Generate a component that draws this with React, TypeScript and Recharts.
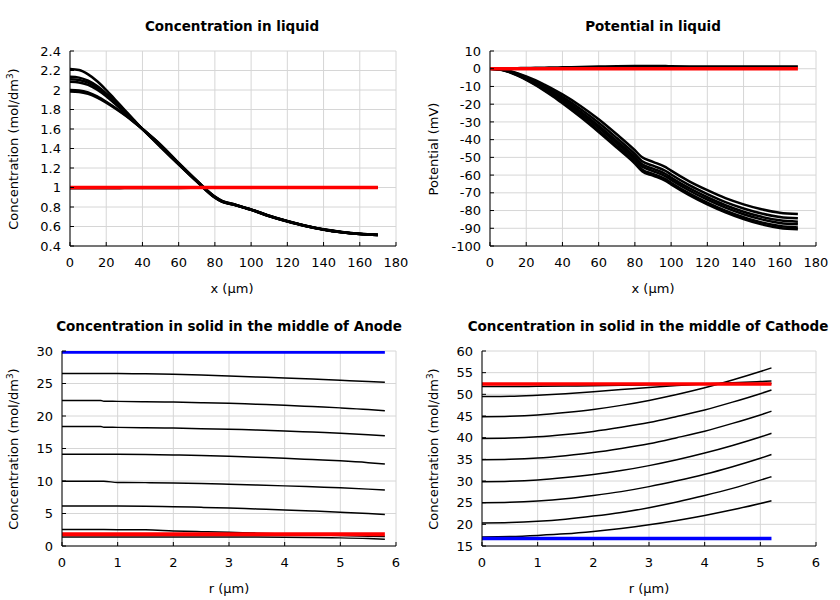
import React from 'react';
import { LineChart, Line, XAxis, YAxis, CartesianGrid } from 'recharts';

const FONT = "'DejaVu Sans', sans-serif";

// ---------- Panel 1: Concentration in liquid ----------
const liquidX = [0, 5, 10, 15, 20, 25, 30, 35, 40, 50, 60, 70, 80, 84, 90, 97, 100, 110, 120, 130, 140, 150, 160, 170];
const liquidC1 = [2.215, 2.205, 2.16, 2.09, 2.0, 1.9, 1.8, 1.7, 1.6, 1.415, 1.235, 1.06, 0.895, 0.852, 0.825, 0.787, 0.77, 0.705, 0.652, 0.605, 0.567, 0.54, 0.522, 0.512];
const liquidC2 = [2.135, 2.127, 2.095, 2.04, 1.965, 1.88, 1.787, 1.692, 1.6, 1.42, 1.24, 1.063, 0.898, 0.854, 0.826, 0.788, 0.771, 0.706, 0.653, 0.606, 0.568, 0.541, 0.523, 0.513];
const liquidC3 = [2.11, 2.103, 2.075, 2.022, 1.952, 1.868, 1.778, 1.688, 1.6, 1.425, 1.243, 1.065, 0.9, 0.856, 0.827, 0.789, 0.772, 0.707, 0.653, 0.606, 0.568, 0.541, 0.523, 0.513];
const liquidC4 = [2.085, 2.078, 2.052, 2.002, 1.935, 1.855, 1.77, 1.684, 1.6, 1.43, 1.245, 1.066, 0.901, 0.857, 0.828, 0.789, 0.773, 0.708, 0.654, 0.607, 0.569, 0.542, 0.524, 0.514];
const liquidC5 = [2.0, 1.995, 1.975, 1.935, 1.88, 1.818, 1.75, 1.677, 1.6, 1.438, 1.25, 1.07, 0.905, 0.86, 0.83, 0.79, 0.775, 0.71, 0.655, 0.608, 0.57, 0.543, 0.525, 0.515];
const liquidC6 = [1.985, 1.98, 1.96, 1.922, 1.87, 1.81, 1.745, 1.675, 1.6, 1.44, 1.252, 1.072, 0.907, 0.862, 0.831, 0.791, 0.776, 0.711, 0.656, 0.609, 0.571, 0.544, 0.526, 0.516];
const liquidC0 = [0.993, 0.993, 0.993, 0.993, 0.993, 0.993, 0.994, 0.994, 0.994, 0.995, 0.996, 0.998, 1.0, 1.0, 1.0, 1.0, 1.0, 1.0, 1.0, 1.0, 1.0, 1.0, 1.0, 1.0];
const liquidInitX = [0, 170];
const liquidInit = [1.0, 1.0];
const liquidXTicks = [0, 20, 40, 60, 80, 100, 120, 140, 160, 180];
const liquidCTicks = [0.4, 0.6, 0.8, 1, 1.2, 1.4, 1.6, 1.8, 2, 2.2, 2.4];

// ---------- Panel 2: Potential in liquid ----------
const potP0 = [0, 0.05, 0.15, 0.3, 0.4, 0.5, 0.6, 0.7, 0.8, 1.0, 1.2, 1.4, 1.55, 1.6, 1.55, 1.5, 1.35, 1.3, 1.3, 1.3, 1.3, 1.3, 1.3, 1.3];
const potP1 = [0, -0.2, -1.0, -2.5, -4.3, -6.5, -9.0, -11.6, -14.5, -21, -28.5, -37, -46, -50, -52.5, -55.5, -57.5, -63.5, -68.5, -73, -76.5, -79.3, -81.2, -82];
const potP2 = [0, -0.26, -1.2, -2.86, -4.86, -7.26, -9.95, -12.78, -15.9, -22.76, -30.5, -39.1, -48.1, -52.2, -54.7, -57.7, -59.7, -65.7, -70.74, -75.24, -78.82, -81.68, -83.6, -84.4];
const potP3 = [0, -0.3, -1.35, -3.15, -5.3, -7.85, -10.7, -13.7, -17.0, -24.15, -32.1, -40.75, -49.75, -53.9, -56.4, -59.4, -61.4, -67.4, -72.5, -77.0, -80.65, -83.55, -85.5, -86.3];
const potP4 = [0, -0.33, -1.47, -3.37, -5.64, -8.31, -11.28, -14.41, -17.85, -25.2, -33.3, -42.0, -51.0, -55.2, -57.7, -60.7, -62.7, -68.7, -73.9, -78.4, -82.1, -85.0, -87.0, -87.8];
const potP5 = [0, -0.37, -1.61, -3.63, -6.04, -8.85, -11.96, -15.25, -18.85, -26.5, -34.8, -43.5, -52.5, -56.8, -59.3, -62.3, -64.3, -70.3, -75.5, -80.0, -83.7, -86.7, -88.7, -89.5];
const potP6 = [0, -0.4, -1.7, -3.8, -6.3, -9.2, -12.4, -15.8, -19.5, -27.3, -35.7, -44.5, -53.5, -57.8, -60.3, -63.3, -65.3, -71.3, -76.5, -81, -84.8, -87.8, -89.8, -90.6];
const potInit = [0, 0];
const potTicks = [-100, -90, -80, -70, -60, -50, -40, -30, -20, -10, 0, 10];

// ---------- Panel 3: Anode solid ----------
const anodeX = [0, 0.5, 0.7, 0.75, 1, 1.5, 2, 2.5, 3, 3.5, 4, 4.5, 5, 5.5, 5.8];
const anodeL1 = [26.55, 26.55, 26.55, 26.55, 26.55, 26.5, 26.42, 26.3, 26.15, 26.0, 25.85, 25.68, 25.5, 25.32, 25.2];
const anodeL2 = [22.4, 22.4, 22.4, 22.27, 22.25, 22.2, 22.15, 22.05, 21.95, 21.8, 21.65, 21.45, 21.25, 21.0, 20.8];
const anodeL3 = [18.4, 18.4, 18.4, 18.27, 18.25, 18.2, 18.15, 18.05, 17.95, 17.85, 17.7, 17.52, 17.35, 17.12, 16.95];
const anodeL4 = [14.1, 14.1, 14.1, 14.1, 14.1, 14.07, 14.0, 13.92, 13.8, 13.65, 13.5, 13.3, 13.1, 12.82, 12.6];
const anodeL5 = [9.95, 9.95, 9.95, 9.95, 9.78, 9.75, 9.7, 9.62, 9.5, 9.38, 9.25, 9.1, 8.95, 8.75, 8.6];
const anodeL6 = [6.15, 6.15, 6.15, 6.15, 6.15, 6.12, 6.05, 5.95, 5.85, 5.7, 5.55, 5.38, 5.2, 5.0, 4.85];
const anodeL7 = [2.55, 2.55, 2.53, 2.52, 2.5, 2.5, 2.32, 2.2, 2.1, 1.98, 1.85, 1.72, 1.6, 1.5, 1.45];
const anodeL8 = [1.4, 1.4, 1.4, 1.4, 1.4, 1.4, 1.4, 1.4, 1.4, 1.38, 1.35, 1.3, 1.25, 1.15, 1.05];
const anodeFlatX = [0, 5.8];
const anodeRed = [1.8, 1.8];
const anodeBlue = [29.8, 29.8];
const anodeYTicks = [0, 5, 10, 15, 20, 25, 30];

// ---------- Panel 4: Cathode solid ----------
const cathodeX = [0, 0.5, 1, 1.5, 2, 2.5, 3, 3.5, 4, 4.5, 5, 5.2];
const cathodeA = [51.8, 51.8, 51.85, 51.9, 52.0, 52.1, 52.2, 52.28, 52.35, 52.42, 52.48, 52.5];
const cathodeB = [49.5, 49.55, 49.8, 50.15, 50.6, 51.1, 51.6, 52.05, 52.4, 52.7, 52.95, 53.05];
const cathodeC = [44.85, 44.95, 45.25, 45.8, 46.5, 47.45, 48.6, 49.95, 51.5, 53.3, 55.25, 56.1];
const cathodeD = [39.8, 39.9, 40.2, 40.75, 41.45, 42.4, 43.5, 44.9, 46.4, 48.2, 50.15, 51.0];
const cathodeE = [34.9, 35.0, 35.3, 35.85, 36.55, 37.5, 38.6, 40.0, 41.5, 43.3, 45.25, 46.1];
const cathodeF = [29.85, 29.95, 30.25, 30.8, 31.5, 32.4, 33.55, 34.9, 36.45, 38.2, 40.15, 41.0];
const cathodeG = [25.0, 25.1, 25.4, 25.9, 26.65, 27.55, 28.7, 30.05, 31.55, 33.3, 35.25, 36.1];
const cathodeH = [20.3, 20.4, 20.7, 21.2, 21.9, 22.75, 23.85, 25.15, 26.65, 28.3, 30.2, 31.0];
const cathodeI = [17.1, 17.2, 17.45, 17.8, 18.35, 19.05, 19.9, 20.9, 22.05, 23.35, 24.8, 25.45];
const cathodeFlatX = [0, 5.2];
const cathodeRed = [52.4, 52.4];
const cathodeBlue = [16.75, 16.75];
const cathodeYTicks = [15, 20, 25, 30, 35, 40, 45, 50, 55, 60];
const rTicks = [0, 1, 2, 3, 4, 5, 6];

const BLACK = '#000000';
const RED = '#ff0000';
const BLUE = '#0000ff';

type Series = { xs: number[]; ys: number[]; color: string; width: number };

const toPts = (xs: number[], ys: number[]) => xs.map((x, i) => ({ x, y: ys[i] }));

const NoTick = () => null;

type PanelProps = {
  left: number;
  top: number;
  plotLeft: number;
  xDomain: [number, number];
  xTicks: number[];
  yDomain: [number, number];
  yTicks: number[];
  series: Series[];
};

function Panel({ left, top, plotLeft, xDomain, xTicks, yDomain, yTicks, series }: PanelProps) {
  const tickStyle = { fill: '#000', fontSize: 13, fontFamily: FONT };
  const lineStyle = { stroke: '#000', strokeWidth: 1 };
  return (
    <div style={{ position: 'absolute', left, top }}>
      <LineChart width={420} height={300} margin={{ top: 51, right: 24, bottom: 24, left: plotLeft - 50 }}>
        <CartesianGrid stroke="#d6d6d6" xAxisId={0} yAxisId={0} />
        <XAxis
          xAxisId={0}
          dataKey="x"
          type="number"
          domain={xDomain}
          ticks={xTicks}
          allowDataOverflow
          interval={0}
          height={30}
          tickSize={-4}
          tickMargin={16}
          tick={tickStyle}
          axisLine={lineStyle}
          tickLine={lineStyle}
        />
        <XAxis
          xAxisId="top"
          orientation="top"
          dataKey="x"
          type="number"
          domain={xDomain}
          ticks={xTicks}
          allowDataOverflow
          interval={0}
          height={0}
          tickSize={-4}
          tick={NoTick}
          axisLine={lineStyle}
          tickLine={lineStyle}
        />
        <YAxis
          yAxisId={0}
          type="number"
          domain={yDomain}
          ticks={yTicks}
          allowDataOverflow
          interval={0}
          width={50}
          tickSize={-4}
          tickMargin={13}
          tick={tickStyle}
          axisLine={lineStyle}
          tickLine={lineStyle}
        />
        <YAxis
          yAxisId="right"
          orientation="right"
          type="number"
          domain={yDomain}
          ticks={yTicks}
          allowDataOverflow
          interval={0}
          width={0}
          tickSize={-4}
          tick={NoTick}
          axisLine={lineStyle}
          tickLine={lineStyle}
        />
        {series.map((s, i) => (
          <Line
            key={i}
            data={toPts(s.xs, s.ys)}
            dataKey="y"
            xAxisId={0}
            yAxisId={0}
            type="monotone"
            stroke={s.color}
            strokeWidth={s.width}
            dot={false}
            activeDot={false}
            isAnimationActive={false}
          />
        ))}
      </LineChart>
    </div>
  );
}

const Sup3 = () => (
  <span style={{ fontSize: '0.68em', position: 'relative', top: '-0.55em' }}>3</span>
);

function TextAt({ x, y, bold, rotate, children }: { x: number; y: number; bold?: boolean; rotate?: boolean; children: React.ReactNode }) {
  return (
    <div
      style={{
        position: 'absolute',
        left: x,
        top: y,
        transform: `translate(-50%, -50%)${rotate ? ' rotate(-90deg)' : ''}`,
        whiteSpace: 'nowrap',
        fontFamily: FONT,
        fontSize: bold ? 13.5 : 13,
        fontWeight: bold ? 'bold' : 'normal',
        color: '#000',
        lineHeight: '16px',
      }}
    >
      {children}
    </div>
  );
}

export default function App() {
  const liquidSeries: Series[] = [
    { xs: liquidX, ys: liquidC0, color: BLACK, width: 2.5 },
    { xs: liquidX, ys: liquidC1, color: BLACK, width: 2.5 },
    { xs: liquidX, ys: liquidC2, color: BLACK, width: 2.5 },
    { xs: liquidX, ys: liquidC3, color: BLACK, width: 2.5 },
    { xs: liquidX, ys: liquidC4, color: BLACK, width: 2.5 },
    { xs: liquidX, ys: liquidC5, color: BLACK, width: 2.5 },
    { xs: liquidX, ys: liquidC6, color: BLACK, width: 2.5 },
    { xs: liquidInitX, ys: liquidInit, color: RED, width: 3.5 },
  ];
  const potSeries: Series[] = [
    { xs: liquidX, ys: potP0, color: BLACK, width: 2.5 },
    { xs: liquidX, ys: potP1, color: BLACK, width: 2.5 },
    { xs: liquidX, ys: potP2, color: BLACK, width: 2.5 },
    { xs: liquidX, ys: potP3, color: BLACK, width: 2.5 },
    { xs: liquidX, ys: potP4, color: BLACK, width: 2.5 },
    { xs: liquidX, ys: potP5, color: BLACK, width: 2.5 },
    { xs: liquidX, ys: potP6, color: BLACK, width: 2.5 },
    { xs: liquidInitX, ys: potInit, color: RED, width: 3.5 },
  ];
  const anodeSeries: Series[] = [
    { xs: anodeX, ys: anodeL1, color: BLACK, width: 1.5 },
    { xs: anodeX, ys: anodeL2, color: BLACK, width: 1.5 },
    { xs: anodeX, ys: anodeL3, color: BLACK, width: 1.5 },
    { xs: anodeX, ys: anodeL4, color: BLACK, width: 1.5 },
    { xs: anodeX, ys: anodeL5, color: BLACK, width: 1.5 },
    { xs: anodeX, ys: anodeL6, color: BLACK, width: 1.5 },
    { xs: anodeX, ys: anodeL7, color: BLACK, width: 1.5 },
    { xs: anodeX, ys: anodeL8, color: BLACK, width: 1.5 },
    { xs: anodeFlatX, ys: anodeRed, color: RED, width: 4 },
    { xs: anodeFlatX, ys: anodeBlue, color: BLUE, width: 3 },
  ];
  const cathodeSeries: Series[] = [
    { xs: cathodeX, ys: cathodeA, color: BLACK, width: 1.5 },
    { xs: cathodeX, ys: cathodeB, color: BLACK, width: 1.5 },
    { xs: cathodeX, ys: cathodeC, color: BLACK, width: 1.5 },
    { xs: cathodeX, ys: cathodeD, color: BLACK, width: 1.5 },
    { xs: cathodeX, ys: cathodeE, color: BLACK, width: 1.5 },
    { xs: cathodeX, ys: cathodeF, color: BLACK, width: 1.5 },
    { xs: cathodeX, ys: cathodeG, color: BLACK, width: 1.5 },
    { xs: cathodeX, ys: cathodeH, color: BLACK, width: 1.5 },
    { xs: cathodeX, ys: cathodeI, color: BLACK, width: 1.5 },
    { xs: cathodeFlatX, ys: cathodeRed, color: RED, width: 3.5 },
    { xs: cathodeFlatX, ys: cathodeBlue, color: BLUE, width: 3.5 },
  ];

  return (
    <div style={{ position: 'absolute', left: 0, top: 0, width: 840, height: 600, background: '#fff' }}>
      <Panel left={0} top={0} plotLeft={70} xDomain={[0, 180]} xTicks={liquidXTicks} yDomain={[0.4, 2.4]} yTicks={liquidCTicks} series={liquidSeries} />
      <Panel left={420} top={0} plotLeft={70} xDomain={[0, 180]} xTicks={liquidXTicks} yDomain={[-100, 10]} yTicks={potTicks} series={potSeries} />
      <Panel left={0} top={300} plotLeft={62} xDomain={[0, 6]} xTicks={rTicks} yDomain={[0, 30]} yTicks={anodeYTicks} series={anodeSeries} />
      <Panel left={420} top={300} plotLeft={62} xDomain={[0, 6]} xTicks={rTicks} yDomain={[15, 60]} yTicks={cathodeYTicks} series={cathodeSeries} />

      <TextAt x={232} y={26} bold>Concentration in liquid</TextAt>
      <TextAt x={653} y={26} bold>Potential in liquid</TextAt>
      <TextAt x={229} y={326} bold>Concentration in solid in the middle of Anode</TextAt>
      <TextAt x={648} y={326} bold>Concentration in solid in the middle of Cathode</TextAt>

      <TextAt x={232} y={289}>x (µm)</TextAt>
      <TextAt x={653} y={289}>x (µm)</TextAt>
      <TextAt x={229} y={589}>r (µm)</TextAt>
      <TextAt x={649} y={589}>r (µm)</TextAt>

      <TextAt x={14} y={149} rotate>Concentration (mol/dm<Sup3 />)</TextAt>
      <TextAt x={434} y={149} rotate>Potential (mV)</TextAt>
      <TextAt x={14} y={449} rotate>Concentration (mol/dm<Sup3 />)</TextAt>
      <TextAt x={434} y={449} rotate>Concentration (mol/dm<Sup3 />)</TextAt>
    </div>
  );
}
